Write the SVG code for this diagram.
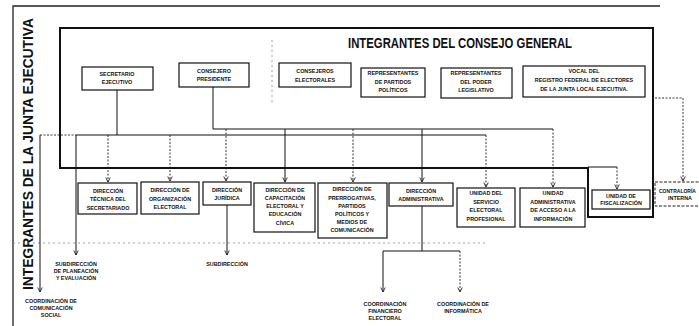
<svg xmlns="http://www.w3.org/2000/svg" width="699" height="326" viewBox="0 0 699 326">
<style>
.box{fill:#fff;stroke:#111;stroke-width:1.2}
.dbox{fill:#fff;stroke:#222;stroke-width:1;stroke-dasharray:3 1.5}
.t{font-family:"Liberation Sans",Arial,sans-serif;font-size:5.4px;font-weight:bold;text-anchor:middle;fill:#111}
.ts{font-family:"Liberation Sans",Arial,sans-serif;font-size:5px;font-weight:bold;text-anchor:start;fill:#111}
.big{font-family:"Liberation Sans",Arial,sans-serif;font-size:14px;font-weight:bold;fill:#111}
.c{fill:none;stroke:#111;stroke-width:1}
.d{fill:none;stroke:#222;stroke-width:0.9;stroke-dasharray:2 1.5}
.f{fill:none;stroke:#888;stroke-width:0.8;stroke-dasharray:2 3}
.frame{fill:none;stroke:#111;stroke-width:2}
</style>
<defs>
<marker id="ah" viewBox="0 0 8 8" refX="7" refY="4" markerWidth="6" markerHeight="6" markerUnits="userSpaceOnUse" orient="auto">
<path d="M1,1 L7,4 L1,7" fill="none" stroke="#111" stroke-width="1.1"/>
</marker>
</defs>
<rect width="699" height="326" fill="#fff"/>

<g id="frames">
<path d="M13,326 V6 H660" fill="none" stroke="#222" stroke-width="1.3"/>
<path class="frame" d="M588,168 H60 V28 H653 V217 H588 Z"/>
<text class="big" transform="translate(33,154) rotate(-90)" text-anchor="middle" textLength="272" lengthAdjust="spacingAndGlyphs">INTEGRANTES DE LA JUNTA EJECUTIVA</text>
<text class="big" x="348" y="48" textLength="224" lengthAdjust="spacingAndGlyphs">INTEGRANTES DEL CONSEJO GENERAL</text>
</g>

<g id="connectors">
<path class="f" d="M272,40 V104"/>
<path class="f" d="M13,243 H485"/>
<path class="c" d="M117,90 V135"/>
<path class="d" d="M40,135 H76"/>
<path class="c" d="M76,135 H250"/>
<path class="c" d="M250,135 H486" stroke-width="0.8"/>
<path class="c" d="M213,87 V129 H553"/>
<path class="d" d="M108,135 V182" marker-end="url(#ah)"/>
<path class="d" d="M170,135 V181" marker-end="url(#ah)"/>
<path class="d" d="M226,129 V181" marker-end="url(#ah)"/>
<path class="c" d="M285,129 V182" marker-end="url(#ah)"/>
<path class="d" d="M353,129 V182" marker-end="url(#ah)"/>
<path class="c" d="M422,129 V182" marker-end="url(#ah)"/>
<path class="d" d="M486,135 V187" marker-end="url(#ah)"/>
<path class="d" d="M553,129 V187" marker-end="url(#ah)"/>
<path class="c" d="M588,167 H617"/>
<path class="d" d="M617,167 V189" marker-end="url(#ah)"/>
<path class="d" d="M655,98 H683 V181" marker-end="url(#ah)"/>
<path class="c" d="M40,135 V292" marker-end="url(#ah)"/>
<path class="c" d="M76,135 V255" marker-end="url(#ah)"/>
<path class="c" d="M227,205 V255" marker-end="url(#ah)"/>
<path class="c" d="M422,206 V251 M383,251 H460"/>
<path class="c" d="M383,251 V292" marker-end="url(#ah)"/>
<path class="d" d="M460,251 V292" marker-end="url(#ah)"/>
</g>

<g id="secretario">
<rect class="box" x="82" y="67" width="71" height="23"/>
<text class="t" x="117" y="76">SECRETARIO</text>
<text class="t" x="117" y="84">EJECUTIVO</text>
</g>
<g id="presidente">
<rect class="box" x="179" y="63" width="70" height="24"/>
<text class="t" x="214" y="73">CONSEJERO</text>
<text class="t" x="214" y="81">PRESIDENTE</text>
</g>
<g id="consejeros">
<rect class="box" x="279" y="63" width="72" height="24"/>
<text class="t" x="315" y="73">CONSEJEROS</text>
<text class="t" x="315" y="81.5">ELECTORALES</text>
</g>
<g id="rep-partidos">
<rect class="box" x="361" y="68" width="64" height="29"/>
<text class="t" x="393" y="75">REPRESENTANTES</text>
<text class="t" x="393" y="84">DE PARTIDOS</text>
<text class="t" x="393" y="92">POLÍTICOS</text>
</g>
<g id="rep-legislativo">
<rect class="box" x="441" y="68" width="71" height="30"/>
<text class="t" x="476" y="75">REPRESENTANTES</text>
<text class="t" x="476" y="84">DEL PODER</text>
<text class="t" x="476" y="92">LEGISLATIVO</text>
</g>
<g id="vocal">
<rect class="box" x="523" y="66" width="122" height="31"/>
<text class="t" x="584" y="73">VOCAL DEL</text>
<text class="t" x="584" y="82">REGISTRO FEDERAL DE ELECTORES</text>
<text class="t" x="584" y="91">DE LA JUNTA LOCAL EJECUTIVA.</text>
</g>

<g id="dir-tecnica">
<rect class="box" x="78" y="183" width="59" height="31"/>
<text class="t" x="108" y="193">DIRECCIÓN</text>
<text class="t" x="108" y="201">TÉCNICA DEL</text>
<text class="t" x="108" y="210">SECRETARIADO</text>
</g>
<g id="dir-organizacion">
<rect class="box" x="141" y="182" width="58" height="32"/>
<text class="t" x="170" y="192">DIRECCIÓN DE</text>
<text class="t" x="170" y="200.5">ORGANIZACIÓN</text>
<text class="t" x="170" y="208.5">ELECTORAL</text>
</g>
<g id="dir-juridica">
<rect class="box" x="203" y="182" width="48" height="23"/>
<text class="t" x="227" y="192">DIRECCIÓN</text>
<text class="t" x="227" y="200">JURÍDICA</text>
</g>
<g id="dir-capacitacion">
<rect class="box" x="254" y="183" width="61" height="49"/>
<text class="t" x="285" y="192">DIRECCIÓN DE</text>
<text class="t" x="285" y="200">CAPACITACIÓN</text>
<text class="t" x="285" y="208">ELECTORAL Y</text>
<text class="t" x="285" y="216">EDUCACIÓN</text>
<text class="t" x="285" y="224.5">CÍVICA</text>
</g>
<g id="dir-prerrogativas">
<rect class="box" x="318" y="183" width="69" height="55"/>
<text class="t" x="352" y="191">DIRECCIÓN DE</text>
<text class="t" x="352" y="199.5">PRERROGATIVAS,</text>
<text class="t" x="352" y="207.5">PARTIDOS</text>
<text class="t" x="352" y="215.5">POLÍTICOS Y</text>
<text class="t" x="352" y="223.5">MEDIOS DE</text>
<text class="t" x="352" y="231.5">COMUNICACIÓN</text>
</g>
<g id="dir-administrativa">
<rect class="box" x="389" y="183" width="64" height="23"/>
<text class="t" x="421" y="193">DIRECCIÓN</text>
<text class="t" x="421" y="200.5">ADMINISTRATIVA</text>
</g>
<g id="unidad-servicio">
<rect class="box" x="457" y="188" width="58" height="39"/>
<text class="t" x="486" y="195">UNIDAD DEL</text>
<text class="t" x="486" y="203.5">SERVICIO</text>
<text class="t" x="486" y="212">ELECTORAL</text>
<text class="t" x="486" y="220.5">PROFESIONAL</text>
</g>
<g id="unidad-acceso">
<rect class="box" x="520" y="188" width="65" height="39"/>
<text class="t" x="553" y="195">UNIDAD</text>
<text class="t" x="553" y="203.5">ADMINISTRATIVA</text>
<text class="t" x="553" y="212">DE ACCESO A LA</text>
<text class="t" x="553" y="220.5">INFORMACIÓN</text>
</g>
<g id="unidad-fiscalizacion">
<rect class="box" x="592" y="190" width="58" height="19"/>
<text class="t" x="621" y="197.5">UNIDAD DE</text>
<text class="t" x="621" y="204.5">FISCALIZACIÓN</text>
</g>
<g id="contraloria">
<rect class="dbox" x="655" y="182" width="50" height="24"/>
<text class="ts" x="659" y="193" textLength="37" lengthAdjust="spacingAndGlyphs">CONTRALORÍA</text>
<text class="t" x="680" y="200">INTERNA</text>
</g>

<g id="subdir-planeacion">
<text class="t" x="76" y="266">SUBDIRECCIÓN</text>
<text class="t" x="76" y="273">DE PLANEACIÓN</text>
<text class="t" x="76" y="279.5">Y EVALUACIÓN</text>
</g>
<g id="coord-comunicacion">
<text class="t" x="51" y="303">COORDINACIÓN DE</text>
<text class="t" x="51" y="310">COMUNICACIÓN</text>
<text class="t" x="51" y="317">SOCIAL</text>
</g>
<g id="subdireccion">
<text class="t" x="227" y="266">SUBDIRECCIÓN</text>
</g>
<g id="coord-financiero">
<text class="t" x="385" y="306">COORDINACIÓN</text>
<text class="t" x="385" y="313">FINANCIERO</text>
<text class="t" x="385" y="319.5">ELECTORAL</text>
</g>
<g id="coord-informatica">
<text class="t" x="463" y="306">COORDINACIÓN DE</text>
<text class="t" x="463" y="313">INFORMÁTICA</text>
</g>
</svg>
